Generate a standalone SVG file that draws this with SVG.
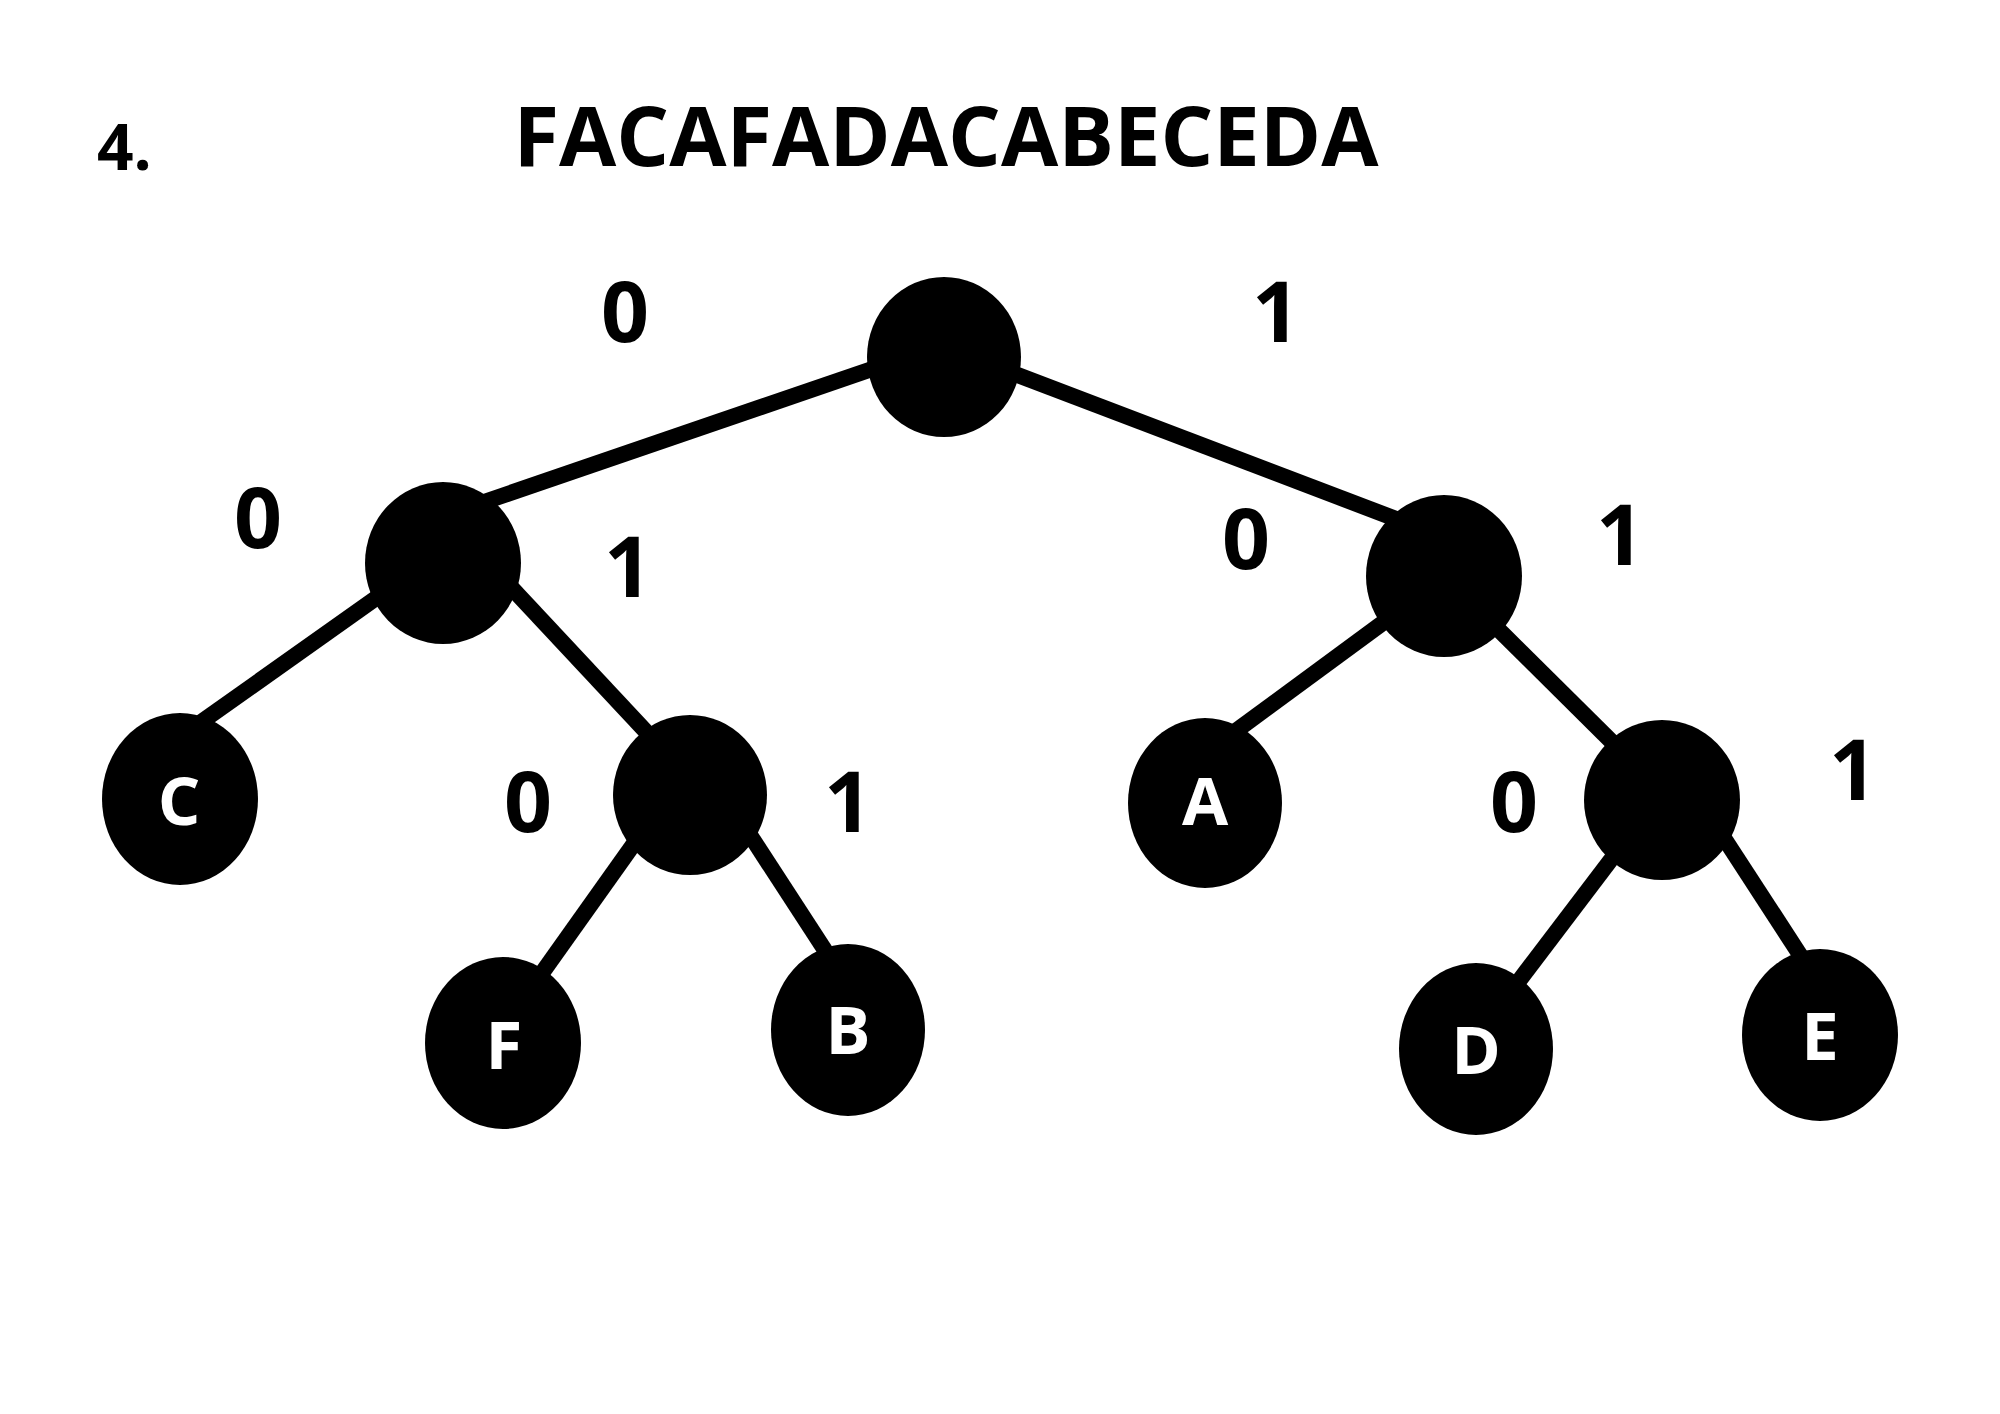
<svg xmlns="http://www.w3.org/2000/svg" width="2000" height="1414" viewBox="0 0 2000 1414">
<style>
.t{font-family:"Open Sans","Liberation Sans",sans-serif;font-weight:bold;fill:#000}
.lbl{font-family:"Open Sans","Liberation Sans",sans-serif;font-weight:bold;font-size:84px;fill:#000;text-anchor:middle}
.nl{font-family:"Open Sans","Liberation Sans",sans-serif;font-weight:bold;font-size:67px;fill:#fff;text-anchor:middle}
.node{fill:#000}
.edge{stroke:#000;stroke-width:16;fill:none}
</style>
<rect width="2000" height="1414" fill="#fff"/>
<text class="t" x="97" y="170" font-size="64">4.</text>
<text class="t" x="946" y="166" font-size="83" text-anchor="middle">FACAFADACABECEDA</text>
<g id="connectors">
<line class="edge" x1="875" y1="368" x2="484" y2="502"/>
<line class="edge" x1="1015" y1="374" x2="1404" y2="522"/>
<line class="edge" x1="379" y1="596" x2="197" y2="725"/>
<line class="edge" x1="509" y1="585" x2="651" y2="737"/>
<line class="edge" x1="1384" y1="622" x2="1229" y2="736"/>
<line class="edge" x1="1496" y1="627" x2="1614" y2="744"/>
<line class="edge" x1="638" y1="838" x2="542" y2="973"/>
<line class="edge" x1="750" y1="835" x2="832" y2="961"/>
<line class="edge" x1="1613" y1="857" x2="1515" y2="986"/>
<line class="edge" x1="1724" y1="838" x2="1804" y2="961"/>
</g>
<g id="labels">
<text class="lbl" x="625" y="342">0</text>
<text class="lbl" x="1276" y="342">1</text>
<text class="lbl" x="258" y="548">0</text>
<text class="lbl" x="628" y="597">1</text>
<text class="lbl" x="1246" y="569">0</text>
<text class="lbl" x="1620" y="565">1</text>
<text class="lbl" x="528" y="832">0</text>
<text class="lbl" x="848" y="832">1</text>
<text class="lbl" x="1514" y="832">0</text>
<text class="lbl" x="1853" y="800">1</text>
</g>
<g id="root"><ellipse class="node" cx="944" cy="357" rx="77" ry="80"/></g>
<g id="n0"><ellipse class="node" cx="443" cy="563" rx="78" ry="81"/></g>
<g id="n1"><ellipse class="node" cx="1444" cy="576" rx="78" ry="81"/></g>
<g id="nodeC"><ellipse class="node" cx="180" cy="799" rx="78" ry="86"/><text class="nl" x="179" y="825">C</text></g>
<g id="n01"><ellipse class="node" cx="690" cy="795" rx="77" ry="80"/></g>
<g id="nodeA"><ellipse class="node" cx="1205" cy="803" rx="77" ry="85"/><text class="nl" x="1205" y="825">A</text></g>
<g id="n11"><ellipse class="node" cx="1662" cy="800" rx="78" ry="80"/></g>
<g id="nodeF"><ellipse class="node" cx="503" cy="1043" rx="78" ry="86"/><text class="nl" x="504" y="1069">F</text></g>
<g id="nodeB"><ellipse class="node" cx="848" cy="1030" rx="77" ry="86"/><text class="nl" x="848" y="1054">B</text></g>
<g id="nodeD"><ellipse class="node" cx="1476" cy="1049" rx="77" ry="86"/><text class="nl" x="1476" y="1074">D</text></g>
<g id="nodeE"><ellipse class="node" cx="1820" cy="1035" rx="78" ry="86"/><text class="nl" x="1820" y="1060">E</text></g>
</svg>
